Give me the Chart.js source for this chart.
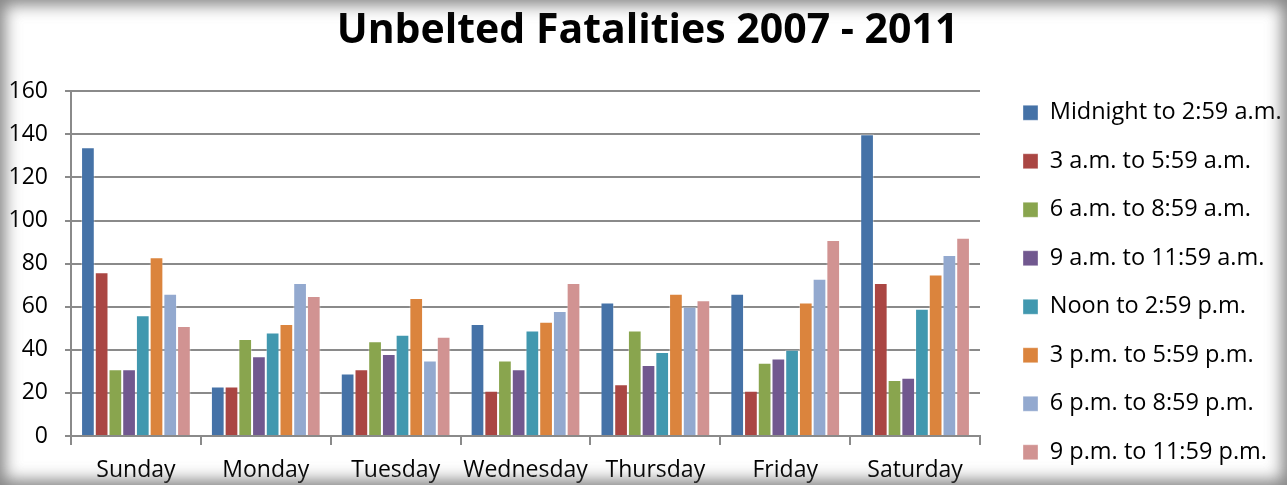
<!DOCTYPE html>
<html>
<head>
<meta charset="utf-8">
<script src="https://cdn.jsdelivr.net/npm/chart.js@4"></script>
<style>
  html, body { margin: 0; padding: 0; background: #fff; }
  #wrap { position: relative; width: 1287px; height: 485px; overflow: hidden; }
  #wrap::after {
    content: ''; position: absolute; inset: 0; pointer-events: none;
    box-shadow: inset 0 0 16px 5px rgba(90, 90, 90, 0.75);
  }
  canvas { display: block; }
</style>
</head>
<body>
<div id="wrap"><canvas id="chartCanvas" width="1287" height="485"></canvas></div>
<script>
const days = ['Sunday', 'Monday', 'Tuesday', 'Wednesday', 'Thursday', 'Friday', 'Saturday'];

const midnightTo259 = [134, 23, 29, 52, 62, 66, 140];
const am3To559 = [76, 23, 31, 21, 24, 21, 71];
const am6To859 = [31, 45, 44, 35, 49, 34, 26];
const am9To1159 = [31, 37, 38, 31, 33, 36, 27];
const noonTo259 = [56, 48, 47, 49, 39, 40, 59];
const pm3To559 = [83, 52, 64, 53, 66, 62, 75];
const pm6To859 = [66, 71, 35, 58, 60, 73, 84];
const pm9To1159 = [51, 65, 46, 71, 63, 91, 92];

const seriesNames = [
  'Midnight to 2:59 a.m.', '3 a.m. to 5:59 a.m.', '6 a.m. to 8:59 a.m.', '9 a.m. to 11:59 a.m.',
  'Noon to 2:59 p.m.', '3 p.m. to 5:59 p.m.', '6 p.m. to 8:59 p.m.', '9 p.m. to 11:59 p.m.'
];
const seriesValues = [midnightTo259, am3To559, am6To859, am9To1159, noonTo259, pm3To559, pm6To859, pm9To1159];
const colores = ['#4572A7', '#AA4643', '#89A54E', '#71588F', '#4198AF', '#DB843D', '#93A9CF', '#D19392'];

const fuente = "'Open Sans', 'DejaVu Sans', sans-serif";
const paddingLeyenda = 25;

const datasets = seriesNames.map((name, i) => ({
  label: name,
  data: seriesValues[i],
  backgroundColor: colores[i],
  borderColor: 'rgba(255,255,255,0.35)',
  borderWidth: 1,
  categoryPercentage: 0.845,
  barPercentage: 1.0
}));

// separa el area del grafico de la leyenda y coloca la leyenda como en el original
const ajusteLeyenda = {
  id: 'ajusteLeyenda',
  beforeInit(chart) {
    Chart.layouts.addBox(chart, {
      position: 'right',
      weight: 1,
      fullSize: false,
      options: { display: false },
      isHorizontal() { return false; },
      update(maxWidth, maxHeight) {
        const anchoLeyenda = chart.legend ? chart.legend.width : 0;
        this.width = Math.max(0, 307 - anchoLeyenda);
        this.height = maxHeight;
      },
      draw() {}
    });
  },
  afterLayout(chart) {
    const leyenda = chart.legend;
    leyenda.left = 1023 - paddingLeyenda;
    leyenda.right = leyenda.left + leyenda.width;
    leyenda.top = 101 - paddingLeyenda;
    leyenda.bottom = 700;
  }
};

new Chart(document.getElementById('chartCanvas'), {
  type: 'bar',
  data: { labels: days, datasets },
  plugins: [ajusteLeyenda],
  options: {
    responsive: false,
    animation: false,
    layout: { padding: { top: 0, left: 8, right: 0, bottom: 0 } },
    scales: {
      x: {
        afterFit(scale) { scale.height = 49; },
        grid: {
          offset: true,
          drawOnChartArea: false,
          drawTicks: true,
          tickLength: 9,
          color: '#8a8a8a',
          lineWidth: 2
        },
        border: { color: '#8a8a8a', width: 2 },
        ticks: {
          color: '#000',
          font: { family: fuente, size: 23 },
          padding: 12,
          maxRotation: 0,
          minRotation: 0,
          autoSkip: false
        }
      },
      y: {
        min: 0,
        max: 160,
        afterFit(scale) { scale.width = 63; },
        ticks: { stepSize: 20, color: '#000', font: { family: fuente, size: 23 }, padding: 17 },
        grid: { color: '#8a8a8a', lineWidth: 2, tickLength: 6 },
        border: { color: '#8a8a8a', width: 2 }
      }
    },
    plugins: {
      title: {
        display: true,
        text: 'Unbelted Fatalities 2007 - 2011',
        color: '#000',
        font: { family: fuente, size: 41, weight: 'bold' },
        padding: { top: 7, bottom: 35 }
      },
      legend: {
        position: 'right',
        align: 'start',
        fullSize: true,
        labels: {
          color: '#000',
          font: { family: fuente, size: 23.5 },
          boxWidth: 15,
          boxHeight: 15,
          padding: paddingLeyenda
        }
      },
      tooltip: { enabled: false }
    }
  }
});
</script>
</body>
</html>
